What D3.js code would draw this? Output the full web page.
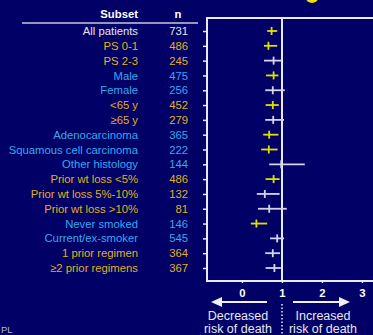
<!DOCTYPE html>
<html>
<head>
<meta charset="utf-8">
<script src="https://cdn.jsdelivr.net/npm/d3@7"></script>
<style>
  html, body { margin: 0; padding: 0; background: #000066; }
  svg { display: block; }
</style>
</head>
<body>
<div id="chart"></div>
<script>
// Subgroups and their sample sizes
const subsets = ['All patients', 'PS 0-1', 'PS 2-3', 'Male', 'Female', '<65 y', '\u226565 y',
  'Adenocarcinoma', 'Squamous cell carcinoma', 'Other histology', 'Prior wt loss <5%',
  'Prior wt loss 5%-10%', 'Prior wt loss >10%', 'Never smoked', 'Current/ex-smoker',
  '1 prior regimen', '\u22652 prior regimens'];
const counts = [731, 486, 245, 475, 256, 452, 279, 365, 222, 144, 486, 132, 81, 146, 545, 364, 367];
// label colour group: w = white, g = gold, c = cyan
const labelGroup = ['w', 'g', 'g', 'c', 'c', 'g', 'g', 'c', 'c', 'c', 'g', 'g', 'g', 'c', 'c', 'g', 'g'];

// hazard ratios with 95% CI
const hr = [0.74, 0.66, 0.79, 0.79, 0.77, 0.77, 0.78, 0.68, 0.67, 0.98, 0.79, 0.57, 0.68, 0.36, 0.88, 0.77, 0.81];
const ciLow = [0.63, 0.55, 0.55, 0.60, 0.58, 0.59, 0.58, 0.53, 0.48, 0.68, 0.59, 0.37, 0.40, 0.22, 0.70, 0.58, 0.59];
const ciHigh = [0.88, 0.88, 0.99, 0.91, 1.07, 0.92, 1.05, 0.91, 0.89, 1.57, 0.94, 0.94, 1.12, 0.63, 1.05, 0.95, 0.97];
// significant subgroups drawn in yellow
const significant = [1, 1, 0, 1, 0, 1, 0, 1, 1, 0, 1, 0, 0, 1, 0, 0, 0];

const xTicks = [0, 1, 2, 3];

const width = 373, height = 335;
const bg = '#000066';
const labelColors = { w: '#e4e4f0', g: '#e0b020', c: '#33aaee' };
const lineColor = '#e8e8f6';

const svg = d3.select('#chart').append('svg')
  .attr('width', width)
  .attr('height', height)
  .style('font-family', '"Liberation Sans", Arial, sans-serif');

svg.append('rect').attr('width', width).attr('height', height).attr('fill', bg);

// bit of the logo cut off at the top
svg.append('ellipse')
  .attr('cx', 312).attr('cy', -2).attr('rx', 6).attr('ry', 5)
  .attr('fill', '#f0e000');

const plot = { left: 207, right: 373, top: 18, bottom: 281 };

const x = d3.scaleLinear().domain([-0.875, 3.275]).range([plot.left, plot.right]);
const y = d3.scalePoint().domain(subsets).range([31, 268]);

// header
svg.append('text')
  .attr('x', 138).attr('y', 18)
  .attr('text-anchor', 'end')
  .attr('fill', '#ffffff')
  .attr('font-size', 11.3).attr('font-weight', 'bold')
  .text('Subset');
svg.append('text')
  .attr('x', 178).attr('y', 18)
  .attr('text-anchor', 'middle')
  .attr('fill', '#ffffff')
  .attr('font-size', 11.3).attr('font-weight', 'bold')
  .text('n');
svg.append('line')
  .attr('x1', 22).attr('x2', 198).attr('y1', 23).attr('y2', 23)
  .attr('stroke', '#c8c8e0').attr('stroke-width', 1.5);

// row labels and counts
const rows = svg.append('g').selectAll('g')
  .data(subsets)
  .enter().append('g')
  .attr('transform', d => `translate(0, ${y(d)})`);

rows.append('text')
  .attr('x', 138).attr('dy', '0.36em')
  .attr('text-anchor', 'end')
  .attr('font-size', 11.3)
  .attr('fill', (d, i) => labelColors[labelGroup[i]])
  .text(d => d);

rows.append('text')
  .attr('x', 188).attr('dy', '0.36em')
  .attr('text-anchor', 'end')
  .attr('font-size', 11.3)
  .attr('fill', (d, i) => labelColors[labelGroup[i]])
  .text((d, i) => counts[i]);

// y axis with small ticks on the left
const yAxis = svg.append('g')
  .attr('transform', `translate(${plot.left}, 0)`)
  .call(d3.axisLeft(y).tickSize(4).tickFormat(''));
yAxis.select('.domain').remove();
yAxis.selectAll('.tick line').attr('stroke', lineColor).attr('stroke-width', 1.5);

// x axis
const xAxis = svg.append('g')
  .attr('transform', `translate(0, ${plot.bottom})`)
  .call(d3.axisBottom(x).tickValues(xTicks).tickSize(2).tickPadding(6).tickFormat(d3.format('d')));
xAxis.select('.domain').remove();
xAxis.selectAll('.tick line').attr('stroke', lineColor).attr('stroke-width', 1.5);
xAxis.selectAll('.tick text')
  .attr('fill', '#ffffff')
  .attr('font-size', 11.3).attr('font-weight', 'bold')
  .attr('font-family', '"Liberation Sans", Arial, sans-serif');

// frame: left, top, bottom and reference line at HR = 1
const frame = svg.append('g').attr('stroke', lineColor).attr('stroke-width', 2).attr('fill', 'none');
frame.append('path')
  .attr('d', `M${plot.right},${plot.top}H${plot.left}V${plot.bottom}H${plot.right}`);

// confidence intervals
const marks = svg.append('g').selectAll('g')
  .data(subsets)
  .enter().append('g')
  .attr('transform', d => `translate(0, ${y(d)})`)
  .attr('stroke', (d, i) => significant[i] ? '#e0e000' : '#d4d4ea');

marks.append('line')
  .attr('x1', (d, i) => x(ciLow[i]))
  .attr('x2', (d, i) => x(ciHigh[i]))
  .attr('stroke-width', 1.8);

marks.append('line')
  .attr('x1', (d, i) => x(hr[i]))
  .attr('x2', (d, i) => x(hr[i]))
  .attr('y1', -4).attr('y2', 4)
  .attr('stroke-width', 1.8);

frame.append('line')
  .attr('x1', x(1)).attr('x2', x(1))
  .attr('y1', plot.top).attr('y2', plot.bottom);

// direction arrows
const arrowY = 302;
const arrowColor = '#f0f0f8';
function arrow(from, to) {
  const dir = Math.sign(to - from);
  svg.append('line')
    .attr('x1', from).attr('x2', to - dir * 6)
    .attr('y1', arrowY).attr('y2', arrowY)
    .attr('stroke', arrowColor).attr('stroke-width', 2);
  svg.append('path')
    .attr('d', `M${to},${arrowY}L${to - dir * 11},${arrowY - 5}L${to - dir * 11},${arrowY + 5}Z`)
    .attr('fill', arrowColor);
}
arrow(267, 211);
arrow(293, 350);

// dotted line below HR = 1
svg.append('line')
  .attr('x1', x(1)).attr('x2', x(1))
  .attr('y1', 304).attr('y2', 335)
  .attr('stroke', arrowColor).attr('stroke-width', 1.5)
  .attr('stroke-dasharray', '1.5,2');

const captions = [
  { x: 238, lines: ['Decreased', 'risk of death'] },
  { x: 323, lines: ['Increased', 'risk of death'] }
];
captions.forEach(c => {
  c.lines.forEach((t, k) => {
    svg.append('text')
      .attr('x', c.x).attr('y', 320 + k * 13)
      .attr('text-anchor', 'middle')
      .attr('font-size', 12.5)
      .attr('fill', '#e8e8f4')
      .text(t);
  });
});

svg.append('text')
  .attr('x', 1).attr('y', 333)
  .attr('font-size', 9.5)
  .attr('fill', '#b4b4cc')
  .text('PL');
</script>
</body>
</html>
